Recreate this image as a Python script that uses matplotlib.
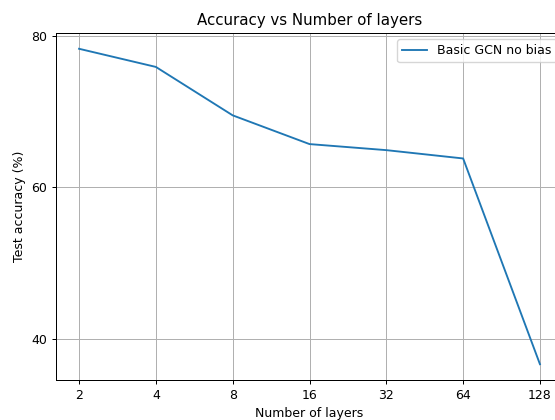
import matplotlib.pyplot as plt
from matplotlib.ticker import FixedLocator, FixedFormatter, NullLocator

layers = [2, 4, 8, 16, 32, 64, 128]
accuracy = [78.3, 75.9, 69.5, 65.7, 64.9, 63.8, 36.6]
tick_labels = [str(n) for n in layers]

# everything drawn at 0.9 of the usual size
s = 0.9
plt.rcParams.update({
    "font.size": 10 * s,
    "axes.titlesize": 12 * s,
    "lines.linewidth": 1.5 * s,
    "grid.linewidth": 0.8 * s,
    "axes.linewidth": 0.8 * s,
    "xtick.major.size": 3.5 * s,
    "ytick.major.size": 3.5 * s,
    "xtick.major.width": 0.8 * s,
    "ytick.major.width": 0.8 * s,
    "axes.titlepad": 6 * s,
    "axes.labelpad": 4 * s,
})

fig = plt.figure(figsize=(5.55, 4.2), dpi=100)
# axes runs a little past the right edge of the figure
ax = fig.add_axes([56 / 555, 1 - 380 / 420, 507 / 555, 347 / 420])

ax.plot(layers, accuracy, label="Basic GCN no bias")
ax.set_xscale("log", base=2)
ax.xaxis.set_major_locator(FixedLocator(layers))
ax.xaxis.set_major_formatter(FixedFormatter(tick_labels))
ax.xaxis.set_minor_locator(NullLocator())
ax.set_yticks([40, 60, 80])

ax.set_title("Accuracy vs Number of layers")
ax.set_xlabel("Number of layers")
ax.set_ylabel("Test accuracy (%)")
ax.grid(True)
ax.legend(loc="upper right")

fig.savefig("out.png", dpi=100)
